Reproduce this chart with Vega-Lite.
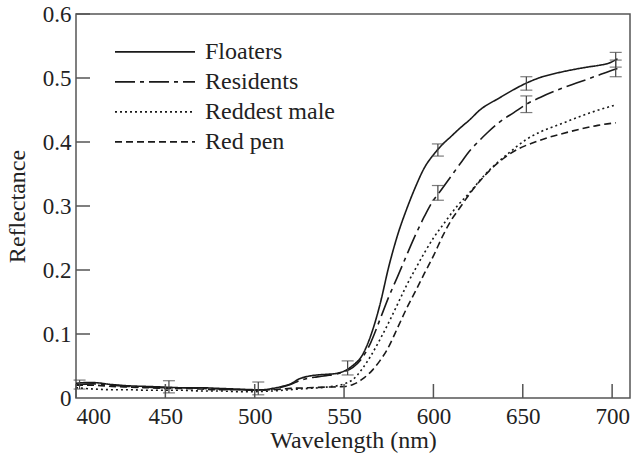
{
  "$schema": "https://vega.github.io/schema/vega-lite/v6.json",
  "width": 554,
  "height": 384,
  "autosize": {"type": "none"},
  "padding": {"left": 76, "top": 14, "right": 2, "bottom": 60},
  "background": "white",
  "config": {
    "view": {"stroke": "#555", "strokeWidth": 1.5},
    "axis": {
      "grid": false,
      "domain": false,
      "ticks": false,
      "labelFont": "Liberation Serif",
      "labelFontSize": 23,
      "labelColor": "#222",
      "titleFont": "Liberation Serif",
      "titleFontSize": 24,
      "titleFontWeight": "normal",
      "titleColor": "#222"
    },
    "legend": {
      "labelFont": "Liberation Serif",
      "labelFontSize": 24,
      "labelColor": "#222"
    }
  },
  "datasets": {
    "curves": [
      {"wl": 400, "r": 0.023, "series": "Floaters"},
      {"wl": 405, "r": 0.024, "series": "Floaters"},
      {"wl": 410, "r": 0.024, "series": "Floaters"},
      {"wl": 420, "r": 0.021, "series": "Floaters"},
      {"wl": 430, "r": 0.019, "series": "Floaters"},
      {"wl": 440, "r": 0.018, "series": "Floaters"},
      {"wl": 450, "r": 0.017, "series": "Floaters"},
      {"wl": 460, "r": 0.016, "series": "Floaters"},
      {"wl": 470, "r": 0.016, "series": "Floaters"},
      {"wl": 480, "r": 0.015, "series": "Floaters"},
      {"wl": 490, "r": 0.014, "series": "Floaters"},
      {"wl": 500, "r": 0.013, "series": "Floaters"},
      {"wl": 505, "r": 0.013, "series": "Floaters"},
      {"wl": 510, "r": 0.015, "series": "Floaters"},
      {"wl": 515, "r": 0.018, "series": "Floaters"},
      {"wl": 520, "r": 0.022, "series": "Floaters"},
      {"wl": 525, "r": 0.030, "series": "Floaters"},
      {"wl": 530, "r": 0.034, "series": "Floaters"},
      {"wl": 535, "r": 0.036, "series": "Floaters"},
      {"wl": 540, "r": 0.037, "series": "Floaters"},
      {"wl": 545, "r": 0.038, "series": "Floaters"},
      {"wl": 550, "r": 0.042, "series": "Floaters"},
      {"wl": 555, "r": 0.051, "series": "Floaters"},
      {"wl": 560, "r": 0.066, "series": "Floaters"},
      {"wl": 565, "r": 0.098, "series": "Floaters"},
      {"wl": 570, "r": 0.145, "series": "Floaters"},
      {"wl": 575, "r": 0.205, "series": "Floaters"},
      {"wl": 580, "r": 0.255, "series": "Floaters"},
      {"wl": 585, "r": 0.295, "series": "Floaters"},
      {"wl": 590, "r": 0.330, "series": "Floaters"},
      {"wl": 595, "r": 0.360, "series": "Floaters"},
      {"wl": 600, "r": 0.380, "series": "Floaters"},
      {"wl": 605, "r": 0.396, "series": "Floaters"},
      {"wl": 610, "r": 0.409, "series": "Floaters"},
      {"wl": 615, "r": 0.422, "series": "Floaters"},
      {"wl": 620, "r": 0.434, "series": "Floaters"},
      {"wl": 626, "r": 0.450, "series": "Floaters"},
      {"wl": 637, "r": 0.469, "series": "Floaters"},
      {"wl": 645, "r": 0.482, "series": "Floaters"},
      {"wl": 652, "r": 0.492, "series": "Floaters"},
      {"wl": 660, "r": 0.501, "series": "Floaters"},
      {"wl": 668, "r": 0.507, "series": "Floaters"},
      {"wl": 678, "r": 0.513, "series": "Floaters"},
      {"wl": 686, "r": 0.517, "series": "Floaters"},
      {"wl": 693, "r": 0.520, "series": "Floaters"},
      {"wl": 698, "r": 0.523, "series": "Floaters"},
      {"wl": 703, "r": 0.530, "series": "Floaters"},
      {"wl": 400, "r": 0.021, "series": "Residents"},
      {"wl": 410, "r": 0.022, "series": "Residents"},
      {"wl": 420, "r": 0.020, "series": "Residents"},
      {"wl": 430, "r": 0.018, "series": "Residents"},
      {"wl": 440, "r": 0.017, "series": "Residents"},
      {"wl": 450, "r": 0.016, "series": "Residents"},
      {"wl": 460, "r": 0.016, "series": "Residents"},
      {"wl": 470, "r": 0.015, "series": "Residents"},
      {"wl": 480, "r": 0.014, "series": "Residents"},
      {"wl": 490, "r": 0.013, "series": "Residents"},
      {"wl": 500, "r": 0.012, "series": "Residents"},
      {"wl": 510, "r": 0.014, "series": "Residents"},
      {"wl": 515, "r": 0.017, "series": "Residents"},
      {"wl": 520, "r": 0.021, "series": "Residents"},
      {"wl": 525, "r": 0.027, "series": "Residents"},
      {"wl": 530, "r": 0.031, "series": "Residents"},
      {"wl": 535, "r": 0.033, "series": "Residents"},
      {"wl": 540, "r": 0.035, "series": "Residents"},
      {"wl": 545, "r": 0.037, "series": "Residents"},
      {"wl": 550, "r": 0.041, "series": "Residents"},
      {"wl": 555, "r": 0.048, "series": "Residents"},
      {"wl": 560, "r": 0.062, "series": "Residents"},
      {"wl": 565, "r": 0.087, "series": "Residents"},
      {"wl": 570, "r": 0.122, "series": "Residents"},
      {"wl": 575, "r": 0.158, "series": "Residents"},
      {"wl": 580, "r": 0.190, "series": "Residents"},
      {"wl": 585, "r": 0.223, "series": "Residents"},
      {"wl": 590, "r": 0.255, "series": "Residents"},
      {"wl": 595, "r": 0.284, "series": "Residents"},
      {"wl": 600, "r": 0.309, "series": "Residents"},
      {"wl": 603, "r": 0.320, "series": "Residents"},
      {"wl": 610, "r": 0.347, "series": "Residents"},
      {"wl": 616, "r": 0.370, "series": "Residents"},
      {"wl": 620, "r": 0.385, "series": "Residents"},
      {"wl": 626, "r": 0.403, "series": "Residents"},
      {"wl": 630, "r": 0.414, "series": "Residents"},
      {"wl": 637, "r": 0.431, "series": "Residents"},
      {"wl": 645, "r": 0.446, "series": "Residents"},
      {"wl": 652, "r": 0.459, "series": "Residents"},
      {"wl": 660, "r": 0.470, "series": "Residents"},
      {"wl": 672, "r": 0.484, "series": "Residents"},
      {"wl": 680, "r": 0.492, "series": "Residents"},
      {"wl": 691, "r": 0.503, "series": "Residents"},
      {"wl": 697, "r": 0.509, "series": "Residents"},
      {"wl": 703, "r": 0.515, "series": "Residents"},
      {"wl": 400, "r": 0.016, "series": "Reddest male"},
      {"wl": 410, "r": 0.014, "series": "Reddest male"},
      {"wl": 420, "r": 0.013, "series": "Reddest male"},
      {"wl": 430, "r": 0.013, "series": "Reddest male"},
      {"wl": 440, "r": 0.012, "series": "Reddest male"},
      {"wl": 450, "r": 0.012, "series": "Reddest male"},
      {"wl": 460, "r": 0.012, "series": "Reddest male"},
      {"wl": 470, "r": 0.011, "series": "Reddest male"},
      {"wl": 480, "r": 0.011, "series": "Reddest male"},
      {"wl": 490, "r": 0.010, "series": "Reddest male"},
      {"wl": 500, "r": 0.010, "series": "Reddest male"},
      {"wl": 510, "r": 0.011, "series": "Reddest male"},
      {"wl": 520, "r": 0.013, "series": "Reddest male"},
      {"wl": 530, "r": 0.015, "series": "Reddest male"},
      {"wl": 540, "r": 0.017, "series": "Reddest male"},
      {"wl": 550, "r": 0.022, "series": "Reddest male"},
      {"wl": 555, "r": 0.029, "series": "Reddest male"},
      {"wl": 560, "r": 0.045, "series": "Reddest male"},
      {"wl": 565, "r": 0.066, "series": "Reddest male"},
      {"wl": 570, "r": 0.091, "series": "Reddest male"},
      {"wl": 575, "r": 0.118, "series": "Reddest male"},
      {"wl": 580, "r": 0.147, "series": "Reddest male"},
      {"wl": 585, "r": 0.176, "series": "Reddest male"},
      {"wl": 590, "r": 0.202, "series": "Reddest male"},
      {"wl": 595, "r": 0.227, "series": "Reddest male"},
      {"wl": 600, "r": 0.250, "series": "Reddest male"},
      {"wl": 606, "r": 0.273, "series": "Reddest male"},
      {"wl": 613, "r": 0.299, "series": "Reddest male"},
      {"wl": 620, "r": 0.320, "series": "Reddest male"},
      {"wl": 626, "r": 0.340, "series": "Reddest male"},
      {"wl": 632, "r": 0.358, "series": "Reddest male"},
      {"wl": 641, "r": 0.380, "series": "Reddest male"},
      {"wl": 652, "r": 0.404, "series": "Reddest male"},
      {"wl": 660, "r": 0.416, "series": "Reddest male"},
      {"wl": 672, "r": 0.429, "series": "Reddest male"},
      {"wl": 687, "r": 0.445, "series": "Reddest male"},
      {"wl": 702, "r": 0.458, "series": "Reddest male"},
      {"wl": 400, "r": 0.020, "series": "Red pen"},
      {"wl": 410, "r": 0.020, "series": "Red pen"},
      {"wl": 420, "r": 0.018, "series": "Red pen"},
      {"wl": 430, "r": 0.017, "series": "Red pen"},
      {"wl": 440, "r": 0.016, "series": "Red pen"},
      {"wl": 450, "r": 0.015, "series": "Red pen"},
      {"wl": 460, "r": 0.015, "series": "Red pen"},
      {"wl": 470, "r": 0.014, "series": "Red pen"},
      {"wl": 480, "r": 0.013, "series": "Red pen"},
      {"wl": 490, "r": 0.013, "series": "Red pen"},
      {"wl": 500, "r": 0.012, "series": "Red pen"},
      {"wl": 510, "r": 0.013, "series": "Red pen"},
      {"wl": 520, "r": 0.015, "series": "Red pen"},
      {"wl": 530, "r": 0.016, "series": "Red pen"},
      {"wl": 540, "r": 0.017, "series": "Red pen"},
      {"wl": 550, "r": 0.018, "series": "Red pen"},
      {"wl": 555, "r": 0.021, "series": "Red pen"},
      {"wl": 560, "r": 0.029, "series": "Red pen"},
      {"wl": 566, "r": 0.044, "series": "Red pen"},
      {"wl": 570, "r": 0.058, "series": "Red pen"},
      {"wl": 574, "r": 0.075, "series": "Red pen"},
      {"wl": 580, "r": 0.110, "series": "Red pen"},
      {"wl": 585, "r": 0.140, "series": "Red pen"},
      {"wl": 590, "r": 0.167, "series": "Red pen"},
      {"wl": 595, "r": 0.195, "series": "Red pen"},
      {"wl": 600, "r": 0.222, "series": "Red pen"},
      {"wl": 605, "r": 0.252, "series": "Red pen"},
      {"wl": 610, "r": 0.278, "series": "Red pen"},
      {"wl": 615, "r": 0.298, "series": "Red pen"},
      {"wl": 620, "r": 0.318, "series": "Red pen"},
      {"wl": 626, "r": 0.339, "series": "Red pen"},
      {"wl": 632, "r": 0.357, "series": "Red pen"},
      {"wl": 640, "r": 0.376, "series": "Red pen"},
      {"wl": 648, "r": 0.390, "series": "Red pen"},
      {"wl": 655, "r": 0.398, "series": "Red pen"},
      {"wl": 663, "r": 0.406, "series": "Red pen"},
      {"wl": 672, "r": 0.413, "series": "Red pen"},
      {"wl": 682, "r": 0.420, "series": "Red pen"},
      {"wl": 692, "r": 0.426, "series": "Red pen"},
      {"wl": 702, "r": 0.430, "series": "Red pen"}
    ],
    "bars": [
      {"wl": 402, "lo": 0.014, "hi": 0.028},
      {"wl": 452, "lo": 0.008, "hi": 0.027},
      {"wl": 502, "lo": 0.005, "hi": 0.025},
      {"wl": 552, "lo": 0.036, "hi": 0.058},
      {"wl": 602.5, "lo": 0.378, "hi": 0.397},
      {"wl": 602.5, "lo": 0.309, "hi": 0.332},
      {"wl": 652, "lo": 0.481, "hi": 0.502},
      {"wl": 652, "lo": 0.446, "hi": 0.472},
      {"wl": 702, "lo": 0.517, "hi": 0.540},
      {"wl": 702, "lo": 0.502, "hi": 0.528}
    ],
    "xticks": [
      {"wl": 400}, {"wl": 450}, {"wl": 500}, {"wl": 550}, {"wl": 600}, {"wl": 650}, {"wl": 700}
    ],
    "yticks": [
      {"r": 0.1}, {"r": 0.2}, {"r": 0.3}, {"r": 0.4}, {"r": 0.5}, {"r": 0.6}
    ]
  },
  "layer": [
    {
      "data": {"name": "curves"},
      "mark": {"type": "line", "interpolate": "monotone", "strokeWidth": 1.6, "color": "#1a1a1a"},
      "encoding": {
        "x": {
          "field": "wl", "type": "quantitative",
          "scale": {"domain": [400, 710], "nice": false, "zero": false},
          "axis": {
            "title": "Wavelength (nm)",
            "values": [400, 450, 500, 550, 600, 650, 700],
            "labelPadding": 7,
            "titlePadding": 0
          }
        },
        "y": {
          "field": "r", "type": "quantitative",
          "scale": {"domain": [0, 0.6], "nice": false},
          "axis": {
            "title": "Reflectance",
            "values": [0, 0.1, 0.2, 0.3, 0.4, 0.5, 0.6],
            "labelExpr": "datum.value == 0 ? '0' : format(datum.value, '.1f')",
            "labelPadding": 5,
            "titlePadding": 13
          }
        },
        "strokeDash": {
          "field": "series", "type": "nominal",
          "scale": {
            "domain": ["Floaters", "Residents", "Reddest male", "Red pen"],
            "range": [[1, 0], [20, 5, 4, 5], [2, 3], [7, 4]]
          },
          "legend": {
            "title": null,
            "orient": "none",
            "legendX": 38,
            "legendY": 23,
            "symbolType": "stroke",
            "symbolSize": 6400,
            "symbolStrokeWidth": 1.6,
            "symbolStrokeColor": "#1a1a1a",
            "clipHeight": 29.7,
            "rowPadding": 0,
            "labelOffset": 9,
            "padding": 0
          }
        }
      }
    },
    {
      "data": {"name": "xticks"},
      "mark": {"type": "tick", "orient": "vertical", "size": 14, "thickness": 1.5, "color": "#555", "opacity": 1, "yOffset": -7},
      "encoding": {
        "x": {"field": "wl", "type": "quantitative"},
        "y": {"datum": 0, "type": "quantitative"}
      }
    },
    {
      "data": {"name": "yticks"},
      "mark": {"type": "tick", "orient": "horizontal", "size": 14, "thickness": 1.5, "color": "#555", "opacity": 1, "xOffset": 7},
      "encoding": {
        "x": {"datum": 400, "type": "quantitative"},
        "y": {"field": "r", "type": "quantitative"}
      }
    },
    {
      "data": {"name": "bars"},
      "mark": {"type": "rule", "color": "#444", "strokeWidth": 1.2},
      "encoding": {
        "x": {"field": "wl", "type": "quantitative"},
        "y": {"field": "lo", "type": "quantitative"},
        "y2": {"field": "hi"}
      }
    },
    {
      "data": {"name": "bars"},
      "mark": {"type": "tick", "orient": "horizontal", "size": 12, "thickness": 1.2, "color": "#444"},
      "encoding": {
        "x": {"field": "wl", "type": "quantitative"},
        "y": {"field": "lo", "type": "quantitative"}
      }
    },
    {
      "data": {"name": "bars"},
      "mark": {"type": "tick", "orient": "horizontal", "size": 12, "thickness": 1.2, "color": "#444"},
      "encoding": {
        "x": {"field": "wl", "type": "quantitative"},
        "y": {"field": "hi", "type": "quantitative"}
      }
    }
  ]
}
